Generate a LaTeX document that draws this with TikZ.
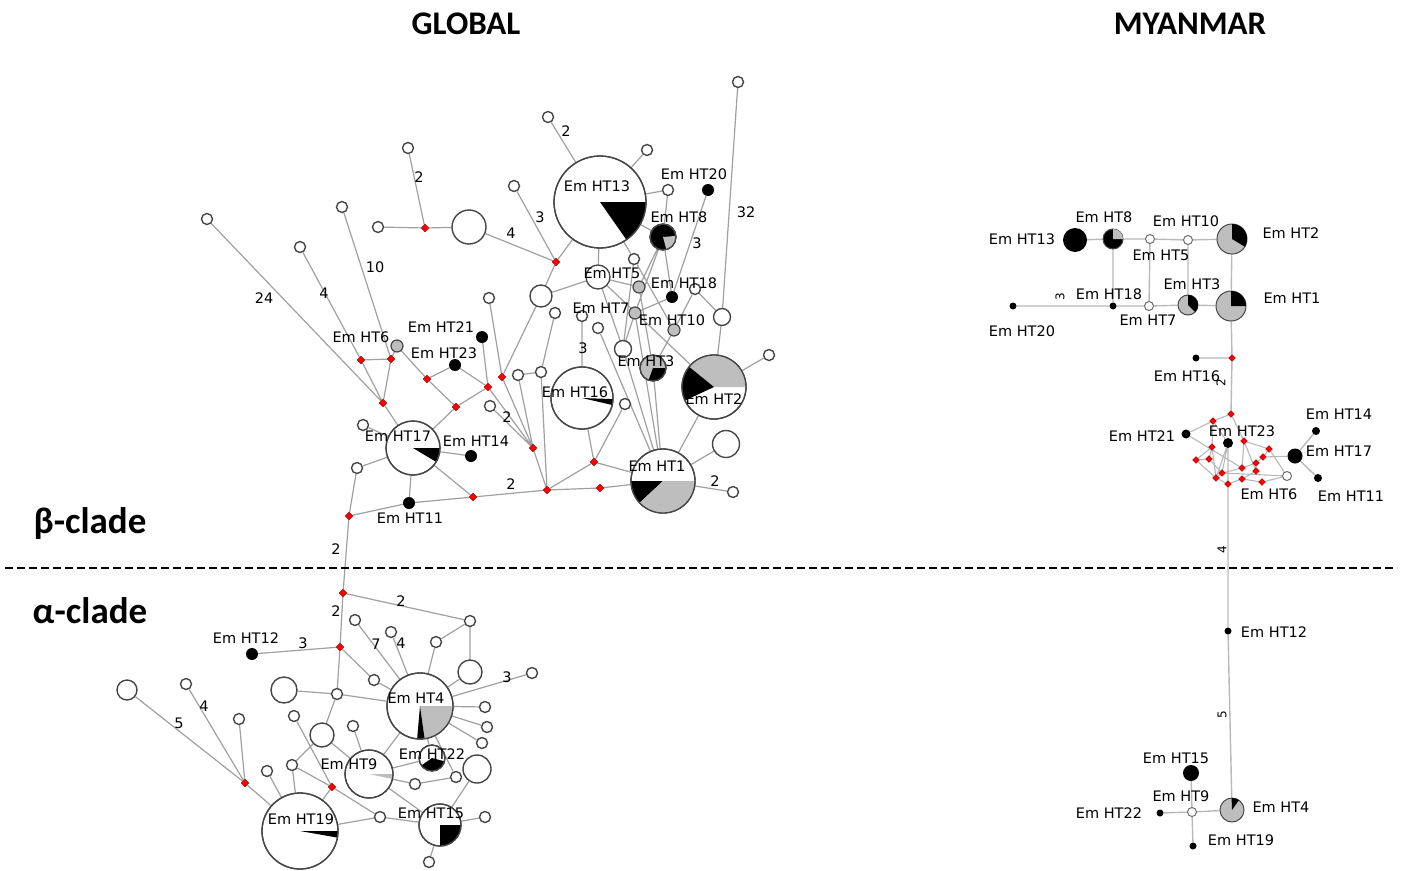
\documentclass[tikz,border=0pt]{standalone}
\usepackage{fontspec}
\setmainfont{DejaVu Sans}
\newfontfamily\titlefont{Carlito}
\usetikzlibrary{backgrounds,shapes.geometric}
\definecolor{ndark}{RGB}{70,70,70}
\definecolor{edgecol}{RGB}{160,160,160}
\definecolor{medge}{RGB}{185,185,185}
\definecolor{pgray}{RGB}{190,190,190}
\newcommand\pieslice[5]{\fill[#5] (#1.center) -- +({-(#3)}:#2) arc[start angle={-(#3)}, end angle={-(#4)}, radius=#2] -- cycle;}
\newcommand\pieline[2]{\draw[ndark,line width=1.3pt] (#1.center) circle[radius=#2];}
\tikzset{
  hol/.style={circle,draw=ndark,fill=white,line width=1.4pt,minimum size=#1,inner sep=0pt},
  hol/.default=11,
  rdot/.style={diamond,fill=red,draw=red!55!black,line width=0.4pt,minimum size=8,inner sep=0pt},
  bdot/.style={circle,fill=black,minimum size=#1,inner sep=0pt},
  bdot/.default=12,
  gdot/.style={circle,fill=pgray,draw=ndark,line width=1.2pt,minimum size=12,inner sep=0pt},
  pie/.style={circle,draw=ndark,fill=white,line width=1.3pt,minimum size=#1,inner sep=0pt},
  ed/.style={draw=edgecol,line width=1.2pt},
  med/.style={draw=medge,line width=1.4pt},
  lab/.style={font=\fontsize{14.5}{16}\selectfont,inner sep=0pt,text=black},
  ttl/.style={font=\titlefont\bfseries\fontsize{33}{38}\selectfont,inner sep=0pt},
  clade/.style={font=\titlefont\bfseries\fontsize{37}{42}\selectfont,inner sep=0pt},
  mb/.style={circle,fill=black,minimum size=#1,inner sep=0pt},
  mb/.default=7,
  mh/.style={circle,draw=ndark!80,fill=white,line width=1pt,minimum size=9,inner sep=0pt},
  mr/.style={diamond,fill=red,draw=red!55!black,line width=0.3pt,minimum size=7,inner sep=0pt},
}
\begin{document}
\begin{tikzpicture}[x=1pt,y=-1pt]
\useasboundingbox (0,0) rectangle (1402,870);

% ---------- titles & separator
\node[ttl] (tglobal) at (466,24) {GLOBAL};
\node[ttl] (tmyan) at (1190,24) {MYANMAR};
\node[clade] (tbeta) at (90,523) {β-clade};
\node[clade] (talpha) at (90,611) {α-clade};
\coordinate (dl) at (5,568);
\coordinate (dr) at (1397,568);
\draw[black,line width=2pt,dash pattern=on 8pt off 4pt] (dl) -- (dr);

% ================= GLOBAL beta clade =================
\node[pie=92] (HT13) at (600,202) {};
\node[pie=26,fill=black] (HT8) at (663,237) {};
\node[pie=24] (HT5) at (598,277) {};
\node[pie=26,fill=pgray] (HT3) at (653,368) {};
\node[pie=64] (HT2) at (714,387) {};
\node[pie=62] (HT16) at (582,398) {};
\node[pie=64] (HT1) at (663,481) {};
\node[pie=54] (HT17) at (413,448) {};
\node[hol] (hA) at (207,219) {};
\node[hol] (hB) at (300,247) {};
\node[hol] (hC) at (342,207) {};
\node[hol] (hD) at (408,148) {};
\node[hol] (hE) at (378,227) {};
\node[hol=34] (hF) at (469,227) {};
\node[hol] (hG) at (514,186) {};
\node[hol] (hH) at (548,117) {};
\node[hol] (hI) at (647,150) {};
\node[hol] (hJ) at (668,190) {};
\node[hol] (hK) at (738,82) {};
\node[hol=22] (hL) at (541,296) {};
\node[hol] (hM) at (489,298) {};
\node[hol] (hN) at (555,313) {};
\node[hol] (hO) at (582,316) {};
\node[hol] (hP) at (598,328) {};
\node[hol] (hQ) at (634,259) {};
\node[hol] (hR) at (695,289) {};
\node[hol=17] (hS) at (722,317) {};
\node[hol=17] (hT) at (623,349) {};
\node[hol] (hU) at (518,375) {};
\node[hol] (hV) at (541,372) {};
\node[hol] (hW) at (490,406) {};
\node[hol] (hX) at (625,404) {};
\node[hol] (hY) at (769,355) {};
\node[hol=27] (hZ) at (726,444) {};
\node[hol] (hAA) at (733,492) {};
\node[hol] (hAB) at (363,425) {};
\node[hol] (hAC) at (357,468) {};
\node[rdot] (rA) at (425,228) {};
\node[rdot] (rB) at (556,262) {};
\node[rdot] (rC) at (361,360) {};
\node[rdot] (rD) at (391,359) {};
\node[rdot] (rE) at (383,403) {};
\node[rdot] (rF) at (427,379) {};
\node[rdot] (rG) at (456,407) {};
\node[rdot] (rH) at (488,387) {};
\node[rdot] (rI) at (502,377) {};
\node[rdot] (rJ) at (533,448) {};
\node[rdot] (rK) at (547,490) {};
\node[rdot] (rL) at (594,462) {};
\node[rdot] (rM) at (600,488) {};
\node[rdot] (rN) at (473,497) {};
\node[rdot] (rO) at (349,516) {};
\node[bdot] (bHT20) at (708,190) {};
\node[bdot] (bHT18) at (672,297) {};
\node[bdot] (bHT21) at (482,337) {};
\node[bdot] (bHT23) at (455,365) {};
\node[bdot] (bHT14) at (471,456) {};
\node[bdot] (bHT11) at (409,503) {};
\node[gdot] (gHT6) at (397,346) {};
\node[gdot] (gA) at (639,287) {};
\node[gdot] (gHT7) at (635,313) {};
\node[gdot] (gHT10) at (674,330) {};

% ================= GLOBAL alpha clade =================
\node[pie=66] (HT4) at (420,706) {};
\node[pie=26] (HT22) at (432,758) {};
\node[pie=48] (HT9) at (369,774) {};
\node[pie=76] (HT19) at (300,831) {};
\node[pie=42] (HT15) at (440,825) {};
\node[rdot] (rP) at (343,593) {};
\node[rdot] (rQ) at (340,647) {};
\node[rdot] (rR) at (332,787) {};
\node[rdot] (rS) at (245,783) {};
\node[bdot] (bHT12) at (252,654) {};
\node[hol] (a1) at (470,621) {};
\node[hol] (a2) at (436,642) {};
\node[hol=24] (a3) at (470,672) {};
\node[hol] (a4) at (374,680) {};
\node[hol] (a5) at (337,694) {};
\node[hol=26] (a6) at (284,690) {};
\node[hol=24] (a7) at (322,735) {};
\node[hol] (a8) at (294,716) {};
\node[hol] (a9) at (292,765) {};
\node[hol] (a10) at (267,771) {};
\node[hol] (a11) at (239,719) {};
\node[hol] (a12) at (186,684) {};
\node[hol=20] (a13) at (127,690) {};
\node[hol] (a14) at (353,726) {};
\node[hol] (a15) at (415,784) {};
\node[hol] (a16) at (456,777) {};
\node[hol] (a17) at (380,817) {};
\node[hol=28] (a18) at (477,769) {};
\node[hol] (a19) at (485,817) {};
\node[hol] (a20) at (429,862) {};
\node[hol] (a21) at (532,673) {};
\node[hol] (a22) at (485,707) {};
\node[hol] (a23) at (487,727) {};
\node[hol] (a24) at (482,743) {};
\node[hol] (a25) at (355,620) {};
\node[hol] (a26) at (391,632) {};

\pieslice{HT13}{46}{-55}{0}{black}
\pieslice{HT8}{13}{-75}{5}{pgray}
\pieslice{HT3}{13}{-110}{0}{black}
\pieslice{HT2}{32}{0}{141}{pgray}
\pieslice{HT2}{32}{141}{205}{black}
\pieslice{HT16}{31}{-13}{-2}{black}
\pieslice{HT1}{32}{180}{223}{black}
\pieslice{HT1}{32}{223}{360}{pgray}
\pieslice{HT17}{27}{-31}{0}{black}
\pieslice{HT4}{33}{-82}{0}{pgray}
\pieslice{HT4}{33}{-95}{-82}{black}
\pieslice{HT22}{13}{-145}{-15}{black}
\pieslice{HT9}{24}{-12}{0}{pgray}
\pieslice{HT19}{38}{-10}{0}{black}
\pieslice{HT15}{21}{-90}{0}{black}
\pieline{HT13}{46} \pieline{HT8}{13} \pieline{HT3}{13} \pieline{HT2}{32}
\pieline{HT16}{31} \pieline{HT1}{32} \pieline{HT17}{27} \pieline{HT4}{33}
\pieline{HT22}{13} \pieline{HT9}{24} \pieline{HT19}{38} \pieline{HT15}{21}

% ================= MYANMAR =================
\node[mb=24] (mHT13) at (1075,240) {};
\node[pie=20,fill=black,line width=1pt] (mHT8) at (1113,239) {};
\node[mh] (mHT5) at (1150,239) {};
\node[mh] (mHT10) at (1188,240) {};
\node[pie=30,fill=pgray,line width=1pt] (mHT2) at (1232,239) {};
\node[mb] (mHT18) at (1113,306) {};
\node[mh] (mHT7) at (1149,306) {};
\node[pie=20,fill=pgray,line width=1pt] (mHT3) at (1188,305) {};
\node[pie=30,fill=pgray,line width=1pt] (mHT1) at (1231,306) {};
\node[mb] (mHT20) at (1013,306) {};
\node[mb] (mHT16) at (1196,358) {};
\node[mr] (mr0) at (1232,358) {};
\node[mr] (mr1) at (1231,414) {};
\node[mr] (mr2) at (1213,421) {};
\node[mr] (mr3) at (1244,441) {};
\node[mr] (mr4) at (1212,447) {};
\node[mr] (mr5) at (1196,460) {};
\node[mr] (mr6) at (1209,459) {};
\node[mr] (mr7) at (1269,449) {};
\node[mr] (mr8) at (1263,457) {};
\node[mr] (mr9) at (1242,468) {};
\node[mr] (mr10) at (1256,463) {};
\node[mr] (mr11) at (1256,471) {};
\node[mr] (mr12) at (1222,473) {};
\node[mr] (mr13) at (1216,478) {};
\node[mr] (mr14) at (1242,479) {};
\node[mr] (mr15) at (1228,484) {};
\node[mr] (mr16) at (1262,482) {};
\node[mb=10] (mHT23) at (1228,443) {};
\node[mb=9] (mHT21) at (1186,434) {};
\node[mh] (mHT6) at (1287,476) {};
\node[mb=15] (mHT17) at (1295,456) {};
\node[mb=8] (mHT14) at (1316,431) {};
\node[mb=8] (mHT11) at (1318,478) {};
\node[mb] (mHT12) at (1228,631) {};
\node[pie=24,fill=pgray,line width=1pt] (mHT4) at (1232,810) {};
\node[mh] (mHT9) at (1192,812) {};
\node[mb=16] (mHT15) at (1191,773) {};
\node[mb] (mHT22) at (1160,813) {};
\node[mb] (mHT19) at (1193,846) {};
\pieslice{mHT8}{10}{0}{90}{pgray}
\pieslice{mHT2}{15}{-31}{90}{black}
\pieslice{mHT3}{10}{-45}{90}{black}
\pieslice{mHT1}{15}{0}{90}{black}
\pieslice{mHT4}{12}{55}{92}{black}

% ================= edges =================
\begin{scope}[on background layer]
\draw[ed] (hA)--(rE) (hB)--(rC) (hC)--(rD) (gHT6)--(rD) (rC)--(rD) (rC)--(rE) (rD)--(rE)
  (rE)--(HT17) (gHT6)--(rF) (rF)--(rG) (rF)--(bHT23) (bHT23)--(rH) (bHT21)--(rH)
  (rG)--(rH) (rG)--(HT17) (HT17)--(hAB) (HT17)--(hAC) (hAC)--(rO) (HT17)--(bHT14)
  (HT17)--(bHT11) (HT17)--(rN) (rO)--(bHT11) (bHT11)--(rN) (rN)--(rK);
\draw[ed] (hD)--(rA) (hE)--(rA) (rA)--(hF) (hF)--(rB) (hG)--(rB) (rB)--(HT13) (rB)--(hL)
  (hH)--(HT13) (hI)--(HT13) (HT13)--(hJ) (hJ)--(HT8) (HT13)--(HT8) (HT13)--(HT5)
  (HT13)--(hQ) (hQ)--(gHT10) (hQ)--(hT) (HT5)--(hL) (hL)--(rI) (hM)--(rI) (rI)--(rJ)
  (rH)--(rJ) (hW)--(rJ) (hU)--(rJ) (hU)--(hV) (hN)--(hV) (hV)--(rK) (rJ)--(rK)
  (rK)--(rL) (rK)--(rM) (rL)--(HT16) (rL)--(hX) (rL)--(HT1) (rM)--(HT1) (hO)--(HT16)
  (hP)--(HT1) (HT5)--(gA) (HT5)--(hT) (HT5)--(HT2) (gA)--(HT8) (HT8)--(bHT18)
  (bHT20)--(bHT18) (bHT18)--(gHT7) (gHT7)--(HT8) (gHT7)--(hT) (gHT7)--(HT1)
  (gA)--(HT3) (gHT10)--(HT3) (gHT10)--(hR) (hR)--(hS) (hS)--(HT2) (hS)--(hK)
  (HT2)--(hY) (HT2)--(HT1) (HT3)--(HT1) (HT1)--(hZ) (HT1)--(hAA) (hT)--(HT1);
\draw[ed] (rO)--(rP) (rP)--(rQ) (rP)--(a1) (a1)--(a2) (a2)--(HT4) (a1)--(a3) (a3)--(HT4)
  (rQ)--(bHT12) (rQ)--(a4) (a4)--(HT4) (rQ)--(a5) (a5)--(a6) (a5)--(HT4) (a5)--(a7)
  (a7)--(a9) (a7)--(HT9) (a9)--(HT19) (a9)--(rR) (a8)--(rR) (rR)--(a17) (rR)--(HT19)
  (a10)--(HT19) (rS)--(HT19) (rS)--(a13) (rS)--(a12) (rS)--(a11) (a14)--(HT9)
  (HT9)--(HT4) (HT9)--(HT22) (HT9)--(a15) (a15)--(a16) (a16)--(HT4) (HT9)--(HT15)
  (HT19)--(a17) (a17)--(HT15) (HT15)--(a18) (HT15)--(a19) (HT15)--(a20)
  (HT4)--(a21) (HT4)--(a22) (HT4)--(a23) (HT4)--(a24) (HT4)--(a25) (HT4)--(a26)
  (HT4)--(HT22);
\draw[med] (mHT13)--(mHT8) (mHT8)--(mHT5) (mHT5)--(mHT10) (mHT10)--(mHT2)
  (mHT8)--(mHT18) (mHT5)--(mHT7) (mHT10)--(mHT3) (mHT2)--(mHT1) (mHT20)--(mHT18)
  (mHT18)--(mHT7) (mHT7)--(mHT3) (mHT3)--(mHT1) (mHT1)--(mr0) (mHT16)--(mr0) (mr0)--(mr1);
\draw[med,line width=1.1pt] (mr1)--(mr2) (mr1)--(mr3) (mr2)--(mHT21) (mHT21)--(mr9)
  (mr2)--(mr4) (mr4)--(mr5) (mr5)--(mr6) (mr6)--(mr4) (mr4)--(mr13) (mr5)--(mr13)
  (mHT23)--(mr12) (mHT23)--(mr15) (mHT23)--(mr13) (mHT23)--(mr2) (mr3)--(mr11)
  (mr3)--(mr9) (mr7)--(mr8) (mr8)--(mHT17) (mr7)--(mHT6) (mr8)--(mr10) (mr10)--(mr11)
  (mr10)--(mr9) (mr11)--(mr14) (mr14)--(mr15) (mr14)--(mr16) (mr16)--(mHT6)
  (mr12)--(mr13) (mr12)--(mr9) (mr13)--(mr15) (mr6)--(mr12) (mr12)--(mHT6) (mr3)--(mr7);
\draw[med] (mHT17)--(mHT14) (mHT17)--(mHT11) (mr15)--(mHT12) (mHT12)--(mHT4)
  (mHT4)--(mHT9) (mHT9)--(mHT15) (mHT9)--(mHT22) (mHT9)--(mHT19);
\end{scope}

% ================= labels =================
\node[lab] (tHT13) at (597,186) {Em HT13};
\node[lab] (tHT20) at (694,174) {Em HT20};
\node[lab] (tHT8) at (679,217) {Em HT8};
\node[lab] (tHT5) at (612,273) {Em HT5};
\node[lab] (tHT18) at (684,283) {Em HT18};
\node[lab] (tHT7) at (601,308) {Em HT7};
\node[lab] (tHT10) at (672,320) {Em HT10};
\node[lab] (tHT3) at (646,361) {Em HT3};
\node[lab] (tHT2) at (714,399) {Em HT2};
\node[lab] (tHT16) at (575,392) {Em HT16};
\node[lab] (tHT1) at (657,466) {Em HT1};
\node[lab] (tHT17) at (398,436) {Em HT17};
\node[lab] (tHT14) at (476,441) {Em HT14};
\node[lab] (tHT11) at (410,518) {Em HT11};
\node[lab] (tHT6) at (361,337) {Em HT6};
\node[lab] (tHT21) at (441,327) {Em HT21};
\node[lab] (tHT23) at (444,353) {Em HT23};
\node[lab] (tHT12) at (246,638) {Em HT12};
\node[lab] (tHT4) at (416,698) {Em HT4};
\node[lab] (tHT22) at (432,754) {Em HT22};
\node[lab] (tHT9) at (349,764) {Em HT9};
\node[lab] (tHT19) at (301,819) {Em HT19};
\node[lab] (tHT15) at (431,813) {Em HT15};
\node[lab] (n1) at (264,298) {24};
\node[lab] (n2) at (324,293) {4};
\node[lab] (n3) at (375,267) {10};
\node[lab] (n4) at (419,177) {2};
\node[lab] (n5) at (511,233) {4};
\node[lab] (n6) at (540,217) {3};
\node[lab] (n7) at (566,131) {2};
\node[lab] (n8) at (746,212) {32};
\node[lab] (n9) at (697,243) {3};
\node[lab] (n10) at (583,348) {3};
\node[lab] (n11) at (507,417) {2};
\node[lab] (n12) at (511,484) {2};
\node[lab] (n13) at (715,481) {2};
\node[lab] (n14) at (336,549) {2};
\node[lab] (n15) at (336,611) {2};
\node[lab] (n16) at (401,601) {2};
\node[lab] (n17) at (303,643) {3};
\node[lab] (n18) at (376,644) {7};
\node[lab] (n19) at (401,643) {4};
\node[lab] (n20) at (507,677) {3};
\node[lab] (n21) at (179,723) {5};
\node[lab] (n22) at (204,706) {4};
\node[lab] (mtHT13) at (1022,239) {Em HT13};
\node[lab] (mtHT8) at (1104,217) {Em HT8};
\node[lab] (mtHT10) at (1186,221) {Em HT10};
\node[lab] (mtHT2) at (1291,233) {Em HT2};
\node[lab] (mtHT5) at (1161,255) {Em HT5};
\node[lab] (mtHT18) at (1109,294) {Em HT18};
\node[lab] (mtHT3) at (1192,284) {Em HT3};
\node[lab] (mtHT1) at (1292,298) {Em HT1};
\node[lab] (mtHT7) at (1148,320) {Em HT7};
\node[lab] (mtHT20) at (1022,331) {Em HT20};
\node[lab] (mtHT16) at (1187,376) {Em HT16};
\node[lab] (mtHT21) at (1142,436) {Em HT21};
\node[lab] (mtHT23) at (1242,431) {Em HT23};
\node[lab] (mtHT14) at (1339,414) {Em HT14};
\node[lab] (mtHT17) at (1339,451) {Em HT17};
\node[lab] (mtHT6) at (1269,494) {Em HT6};
\node[lab] (mtHT11) at (1351,496) {Em HT11};
\node[lab] (mtHT12) at (1274,632) {Em HT12};
\node[lab] (mtHT15) at (1176,758) {Em HT15};
\node[lab] (mtHT9) at (1181,796) {Em HT9};
\node[lab] (mtHT22) at (1109,813) {Em HT22};
\node[lab] (mtHT4) at (1281,807) {Em HT4};
\node[lab] (mtHT19) at (1241,840) {Em HT19};
\node[lab,rotate=90,font=\fontsize{12}{14}\selectfont] (mn1) at (1060,297) {3};
\node[lab,rotate=90,font=\fontsize{12}{14}\selectfont] (mn2) at (1221,383) {2};
\node[lab,rotate=90,font=\fontsize{12}{14}\selectfont] (mn3) at (1222,550) {4};
\node[lab,rotate=90,font=\fontsize{12}{14}\selectfont] (mn4) at (1222,715) {5};
\end{tikzpicture}
\end{document}
